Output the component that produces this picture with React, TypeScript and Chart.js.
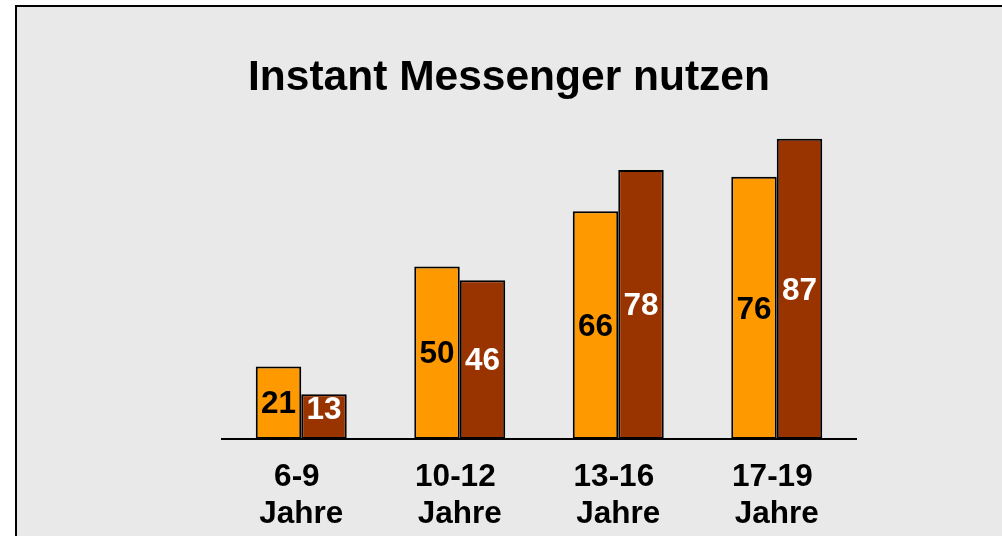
import React, { useEffect, useRef } from 'react';
import { Chart, registerables } from 'chart.js';

Chart.register(...registerables);

const categories: string[][] = [
  ['6-9 ', 'Jahre'],
  ['10-12 ', 'Jahre'],
  ['13-16 ', 'Jahre'],
  ['17-19 ', 'Jahre'],
];
const seriesOrange = [21, 50, 66, 76];
const seriesBrown = [13, 46, 78, 87];
const chartTitle = 'Instant Messenger nutzen';

const FONT = "'Liberation Sans', Arial, Helvetica, sans-serif";
const ORANGE = '#FF9900';
const BROWN = '#993300';
const BG = '#e9e9e9';

const framePlugin = {
  id: 'frame',
  beforeDraw(chart: any) {
    const { ctx, width, height } = chart;
    ctx.save();
    ctx.fillStyle = '#ffffff';
    ctx.fillRect(0, 0, width, height);
    ctx.fillStyle = BG;
    ctx.fillRect(16, 6, width - 16, height - 6);
    ctx.strokeStyle = '#000';
    ctx.lineWidth = 2;
    ctx.beginPath();
    ctx.moveTo(16, height);
    ctx.lineTo(16, 6);
    ctx.lineTo(width, 6);
    ctx.stroke();
    ctx.restore();
  },
};

const titlePlugin = {
  id: 'customTitle',
  afterDraw(chart: any) {
    const { ctx } = chart;
    ctx.save();
    ctx.font = `bold 42.5px ${FONT}`;
    ctx.fillStyle = '#000';
    ctx.textAlign = 'center';
    ctx.textBaseline = 'alphabetic';
    ctx.fillText(chartTitle, 509, 90);
    ctx.restore();
  },
};

const labelPlugin = {
  id: 'barLabels',
  afterDatasetsDraw(chart: any) {
    const { ctx } = chart;
    ctx.save();
    ctx.font = `bold 31.5px ${FONT}`;
    ctx.textAlign = 'center';
    ctx.textBaseline = 'middle';
    chart.data.datasets.forEach((ds: any, di: number) => {
      const meta = chart.getDatasetMeta(di);
      ctx.fillStyle = ds.labelColor;
      meta.data.forEach((bar: any, i: number) => {
        const { x, y, base } = bar.getProps(['x', 'y', 'base'], true);
        const mid = (y + base) / 2;
        const ty = Math.min(mid + 2, base - 29);
        ctx.fillText(String(ds.data[i]), x, ty);
      });
    });
    ctx.restore();
  },
};

export default function App() {
  const ref = useRef<HTMLCanvasElement | null>(null);

  useEffect(() => {
    if (!ref.current) return;
    const chart = new Chart(ref.current, {
      type: 'bar',
      data: {
        labels: categories as any,
        datasets: [
          {
            label: 'Orange',
            data: seriesOrange,
            backgroundColor: ORANGE,
            borderColor: '#000',
            borderWidth: 2,
            borderSkipped: false,
            categoryPercentage: 0.574,
            barPercentage: 1,
            labelColor: '#000',
          } as any,
          {
            label: 'Braun',
            data: seriesBrown,
            backgroundColor: BROWN,
            borderColor: '#000',
            borderWidth: 2,
            borderSkipped: false,
            categoryPercentage: 0.574,
            barPercentage: 1,
            labelColor: '#fff',
          } as any,
        ],
      },
      options: {
        responsive: false,
        animation: false,
        layout: { padding: { left: 222, right: 146, top: 94, bottom: 0 } },
        plugins: {
          legend: { display: false },
          title: { display: false },
          tooltip: { enabled: false },
        },
        scales: {
          x: {
            grid: { display: false, drawTicks: false },
            border: { display: true, color: '#000', width: 2 },
            ticks: {
              color: '#000',
              padding: 20,
              maxRotation: 0,
              autoSkip: false,
              font: { family: FONT, size: 31.5, weight: 'bold', lineHeight: 1.18 },
            },
            afterFit: (scale: any) => {
              scale.height = 97;
            },
          },
          y: {
            display: false,
            min: 0,
            max: 100,
          },
        },
      },
      plugins: [framePlugin, titlePlugin, labelPlugin],
    });
    return () => chart.destroy();
  }, []);

  return (
    <div style={{ position: 'fixed', left: 0, top: 0, width: 1002, height: 536 }}>
      <canvas ref={ref} width={1002} height={536} style={{ width: 1002, height: 536, display: 'block' }} />
    </div>
  );
}
